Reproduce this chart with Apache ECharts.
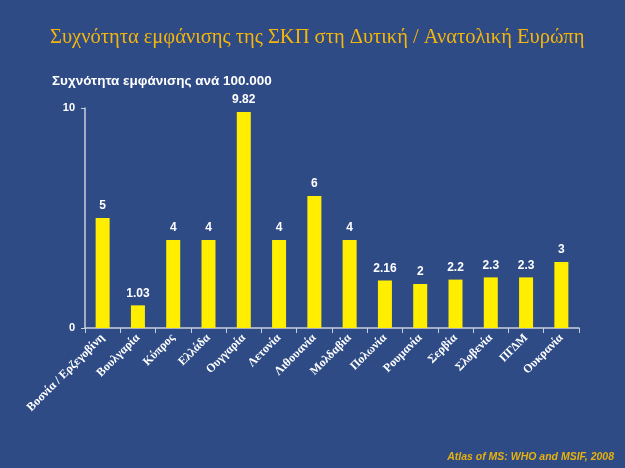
<!DOCTYPE html>
<html>
<head>
<meta charset="utf-8">
<script src="https://cdn.jsdelivr.net/npm/echarts@6/dist/echarts.min.js"></script>
<style>
  html, body { margin: 0; padding: 0; background: #2e4b86; }
  #chart { width: 625px; height: 468px; }
</style>
</head>
<body>
<div id="chart"></div>
<script>
var countries = ['Βοσνία / Ερζεγοβίνη', 'Βουλγαρία', 'Κύπρος', 'Ελλάδα', 'Ουγγαρία', 'Λετονία', 'Λιθουανία',
    'Μολδαβία', 'Πολωνία', 'Ρουμανία', 'Σερβία', 'Σλοβενία', 'ΠΓΔΜ', 'Ουκρανία'];
var rates = [5, 1.03, 4, 4, 9.82, 4, 6, 4, 2.16, 2, 2.2, 2.3, 2.3, 3];
var rateLabels = ['5', '1.03', '4', '4', '9.82', '4', '6', '4', '2.16', '2', '2.2', '2.3', '2.3', '3'];

var axisColor = '#c8cfdc';

var chart = echarts.init(document.getElementById('chart'));
chart.setOption({
    animation: false,
    backgroundColor: '#2e4b86',
    title: [
        { text: 'Συχνότητα εμφάνισης της ΣΚΠ στη Δυτική / Ανατολική Ευρώπη', left: 45, top: 22,
          textStyle: { color: '#f5b50a', fontSize: 20.5, fontWeight: 'normal', fontFamily: 'Liberation Serif' } },
        { text: 'Συχνότητα εμφάνισης ανά 100.000', left: 47, top: 69,
          textStyle: { color: '#ffffff', fontSize: 13.5, fontWeight: 'bold', fontFamily: 'Liberation Sans' } },
        { text: 'Atlas of MS: WHO and MSIF, 2008', right: 6, top: 447,
          textStyle: { color: '#e8b20e', fontSize: 10.5, fontWeight: 'bold', fontStyle: 'italic', fontFamily: 'Liberation Sans' } }
    ],
    grid: { left: 85, right: 46, top: 108, bottom: 140 },
    xAxis: {
        type: 'category',
        data: countries,
        axisLine: { lineStyle: { color: axisColor, width: 1.5 } },
        axisTick: { show: true, length: 5, lineStyle: { color: axisColor } },
        axisLabel: { color: '#ffffff', fontSize: 12, fontWeight: 'bold', fontFamily: 'Liberation Serif', rotate: 45, interval: 0, margin: 8 }
    },
    yAxis: {
        type: 'value',
        min: 0, max: 10, interval: 10,
        axisLine: { show: true, lineStyle: { color: axisColor, width: 1.5 } },
        axisTick: { show: true, length: 4, lineStyle: { color: axisColor } },
        splitLine: { show: false },
        axisLabel: { color: '#ffffff', fontSize: 11, fontWeight: 'bold', fontFamily: 'Liberation Sans', margin: 10 }
    },
    series: [{
        type: 'bar',
        data: rates,
        barWidth: 14,
        itemStyle: { color: '#ffee00' },
        label: {
            show: true, position: 'top', distance: 6,
            color: '#ffffff', fontSize: 12, fontWeight: 'bold', fontFamily: 'Liberation Sans',
            formatter: function (p) { return rateLabels[p.dataIndex]; }
        }
    }]
});
</script>
</body>
</html>
